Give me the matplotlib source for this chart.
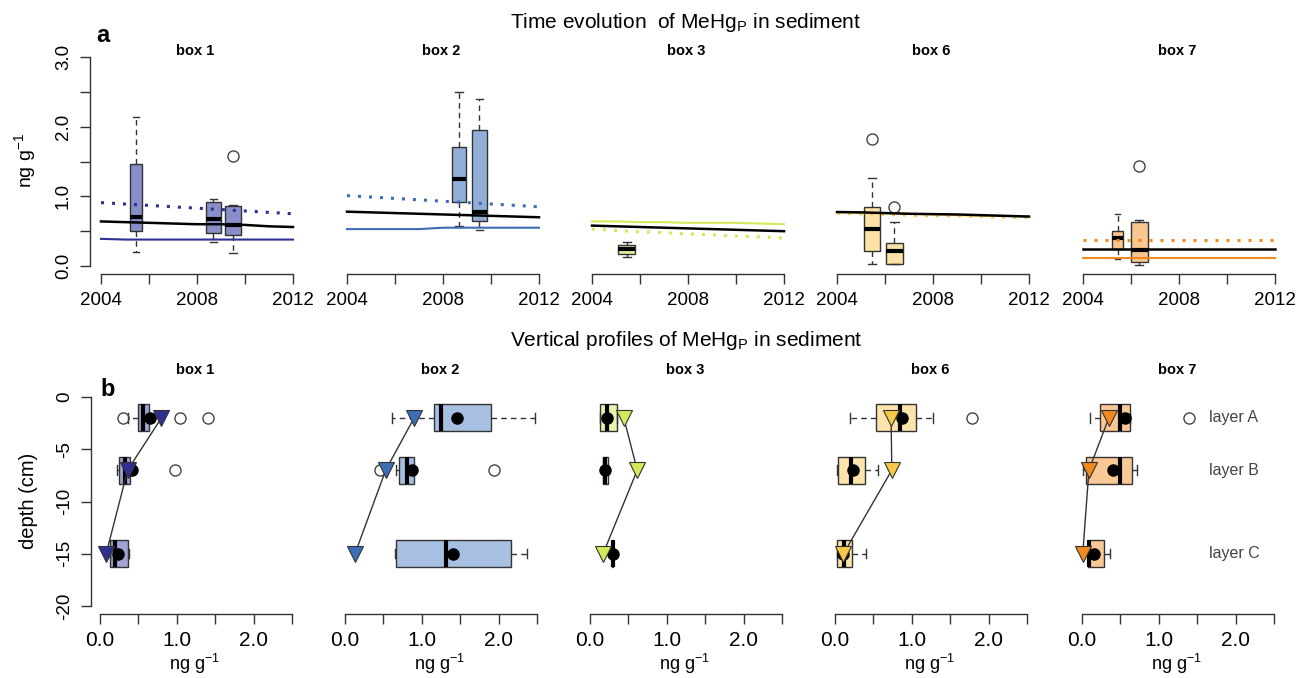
import matplotlib.pyplot as plt

plt.rcParams['font.family'] = ['Liberation Sans', 'DejaVu Sans']
plt.rcParams['mathtext.fontset'] = 'custom'
plt.rcParams['mathtext.rm'] = 'Liberation Sans'
plt.rcParams['mathtext.it'] = 'Liberation Sans:italic'
plt.rcParams['mathtext.bf'] = 'Liberation Sans:bold'

# ---------------- data ----------------
boxes = ['box 1', 'box 2', 'box 3', 'box 6', 'box 7']

# (a) time evolution: sampling campaigns (decimal year) and box stats
time_pos = [[2005.45, 2008.68, 2009.51], [2008.66, 2009.52], [2005.45],
            [2005.46, 2006.39], [2005.44, 2006.34]]
time_whislo = [[0.20, 0.35, 0.19], [0.57, 0.51], [0.13], [0.03, 0.03], [0.10, 0.02]]
time_q1 = [[0.50, 0.47, 0.44], [0.92, 0.65], [0.17], [0.22, 0.03], [0.24, 0.06]]
time_med = [[0.70, 0.68, 0.59], [1.25, 0.77], [0.24], [0.53, 0.21], [0.40, 0.23]]
time_q3 = [[1.46, 0.92, 0.86], [1.71, 1.95], [0.30], [0.84, 0.33], [0.50, 0.63]]
time_whishi = [[2.14, 0.96, 0.87], [2.50, 2.40], [0.35], [1.26, 0.63], [0.74, 0.66]]
time_fliers = [[[], [], [1.58]], [[], []], [[]], [[1.82], [0.84]], [[], [1.43]]]

# model runs, yearly values 2004-2012
model_years = [2004, 2005, 2006, 2007, 2008, 2009, 2010, 2011, 2012]
model_black = [[0.64, 0.63, 0.62, 0.61, 0.60, 0.60, 0.59, 0.57, 0.56],
               [0.78, 0.77, 0.76, 0.75, 0.74, 0.73, 0.72, 0.71, 0.70],
               [0.58, 0.57, 0.56, 0.55, 0.54, 0.53, 0.52, 0.51, 0.50],
               [0.775, 0.77, 0.76, 0.75, 0.745, 0.74, 0.73, 0.72, 0.71],
               [0.24, 0.24, 0.24, 0.24, 0.24, 0.24, 0.24, 0.24, 0.24]]
model_solid = [[0.39, 0.38, 0.38, 0.38, 0.38, 0.38, 0.38, 0.38, 0.38],
               [0.53, 0.53, 0.53, 0.53, 0.55, 0.55, 0.55, 0.55, 0.55],
               [0.64, 0.64, 0.63, 0.63, 0.62, 0.62, 0.62, 0.61, 0.60],
               [0.77, 0.76, 0.76, 0.75, 0.74, 0.73, 0.72, 0.72, 0.71],
               [0.12, 0.12, 0.12, 0.12, 0.12, 0.12, 0.12, 0.12, 0.12]]
model_dotted = [[0.91, 0.89, 0.87, 0.85, 0.83, 0.81, 0.79, 0.77, 0.75],
                [1.01, 0.99, 0.97, 0.95, 0.93, 0.91, 0.89, 0.87, 0.85],
                [0.53, 0.51, 0.49, 0.48, 0.46, 0.45, 0.43, 0.42, 0.40],
                [0.76, 0.75, 0.74, 0.73, 0.72, 0.72, 0.71, 0.70, 0.70],
                [0.37, 0.37, 0.37, 0.37, 0.37, 0.37, 0.37, 0.37, 0.37]]

# (b) vertical profiles: layers A, B, C
layers = ['layer A', 'layer B', 'layer C']
depths = [-2, -7, -15]
prof_whislo = [[0.36, 0.22, 0.13], [0.61, 0.67, 0.65], [0.13, 0.165, 0.28],
               [0.19, 0.02, 0.02], [0.10, 0.01, 0.08]]
prof_q1 = [[0.49, 0.25, 0.13], [1.16, 0.70, 0.67], [0.13, 0.165, 0.28],
           [0.54, 0.04, 0.02], [0.23, 0.05, 0.08]]
prof_med = [[0.56, 0.32, 0.20], [1.25, 0.81, 1.32], [0.225, 0.195, 0.295],
            [0.84, 0.21, 0.12], [0.49, 0.50, 0.09]]
prof_q3 = [[0.64, 0.39, 0.37], [1.90, 0.90, 2.16], [0.35, 0.24, 0.30],
           [1.06, 0.39, 0.22], [0.62, 0.65, 0.29]]
prof_whishi = [[0.64, 0.39, 0.38], [2.48, 0.90, 2.37], [0.35, 0.24, 0.30],
               [1.27, 0.56, 0.41], [0.62, 0.72, 0.36]]
prof_fliers = [[[0.30, 1.04, 1.41], [0.98], []], [[], [0.45, 1.94], []],
               [[], [], []], [[1.78], [], []], [[1.39], [], []]]
prof_mean = [[0.65, 0.42, 0.23], [1.46, 0.875, 1.41], [0.225, 0.195, 0.30],
             [0.875, 0.23, 0.11], [0.56, 0.40, 0.15]]
prof_model = [[0.80, 0.36, 0.08], [0.90, 0.53, 0.13], [0.44, 0.615, 0.17],
              [0.73, 0.74, 0.11], [0.35, 0.09, 0.01]]

# ---------------- style ----------------
fill_top = ['#8A8EC8', '#92AFD8', '#E6EFA0', '#FCE2A6', '#F9C690']
fill_bot = ['#A0A5D6', '#A7BFE0', '#EAF2AE', '#FCE4AC', '#F9C896']
line_col = ['#2E3192', '#3D6DB5', '#D6E85A', '#F7C94A', '#F28B1F']
top_w = [[0.52, 0.62, 0.67], [0.61, 0.62], [0.70], [0.70, 0.70], [0.46, 0.70]]
edge = '#333333'

W, H = 1297, 678
fig = plt.figure(figsize=(W / 100, H / 100), dpi=100)


def add_px(left, top, right, bottom):
    return fig.add_axes([left / W, 1 - bottom / H, (right - left) / W, (bottom - top) / H])


def stats_list(lo, q1, med, q3, hi, fl):
    return [dict(whislo=a, q1=b, med=c, q3=d, whishi=e, fliers=f)
            for a, b, c, d, e, f in zip(lo, q1, med, q3, hi, fl)]


def style_axes(ax, first):
    for s in ['top', 'right']:
        ax.spines[s].set_visible(False)
    for s in ['left', 'bottom']:
        ax.spines[s].set_color(edge)
        ax.spines[s].set_linewidth(1)
    ax.tick_params(direction='out', length=7, width=1, color=edge)
    if not first:
        ax.spines['left'].set_visible(False)
        ax.tick_params(axis='y', left=False, labelleft=False)


bxp_kw = dict(patch_artist=True, manage_ticks=False,
              medianprops=dict(color='black', lw=3, solid_capstyle='butt'),
              whiskerprops=dict(color=edge, lw=1, ls=(0, (4, 3))),
              capprops=dict(color=edge, lw=1),
              flierprops=dict(marker='o', mfc='none', mec='#444444', ms=8, mew=1))

# ---------------- (a) time evolution ----------------
top_x0 = [101, 347, 592, 837, 1083]
for i, o in enumerate(top_x0):
    ax = add_px(o - 0.46 * 24, 48.6, o + 8.32 * 24, 274.4)
    ax.set_xlim(2003.54, 2012.32)
    ax.set_ylim(-0.12, 3.12)
    style_axes(ax, i == 0)
    ax.spines['bottom'].set_bounds(2004, 2012)
    ax.spines['left'].set_bounds(0, 3)
    ax.set_xticks([2004, 2006, 2008, 2010, 2012])
    ax.set_xticklabels(['2004', '', '2008', '', '2012'], fontsize=13.5)
    ax.tick_params(axis='x', pad=6)
    if i == 0:
        ax.set_yticks([0, 0.5, 1, 1.5, 2, 2.5, 3])
        ax.set_yticklabels(['0.0', '', '1.0', '', '2.0', '', '3.0'],
                           fontsize=13.5, rotation=90, va='center')
        ax.tick_params(axis='y', pad=6)

    st = stats_list(time_whislo[i], time_q1[i], time_med[i], time_q3[i],
                    time_whishi[i], time_fliers[i])
    ax.bxp(st, positions=time_pos[i], widths=top_w[i],
           capwidths=[w * 0.5 for w in top_w[i]],
           boxprops=dict(facecolor=fill_top[i], edgecolor=edge, lw=1), **bxp_kw)

    ax.plot(model_years, model_solid[i], color=line_col[i], lw=1.5, zorder=4)
    ax.plot(model_years, model_dotted[i], color=line_col[i], lw=2.2,
            ls=(0, (1, 2.6)), zorder=4)
    ax.plot(model_years, model_black[i], color='black', lw=1.8, zorder=5)

    fig.text((o + 94) / W, 1 - 51 / H, boxes[i], fontsize=10.5, weight='bold',
             ha='center', va='center')

# ---------------- (b) vertical profiles ----------------
bot_x0 = [100, 345, 590, 835, 1082]
for i, o in enumerate(bot_x0):
    ax = add_px(o - 0.115 * 76.8, 388.6, o + 2.6 * 76.8, 614.4)
    ax.set_xlim(-0.115, 2.6)
    ax.set_ylim(-20.8, 0.8)
    style_axes(ax, i == 0)
    ax.spines['bottom'].set_bounds(0, 2.5)
    ax.spines['left'].set_bounds(-20, 0)
    ax.set_xticks([0, 0.5, 1, 1.5, 2, 2.5])
    ax.set_xticklabels(['0.0', '', '1.0', '', '2.0', ''], fontsize=15)
    ax.tick_params(axis='x', pad=5)
    if i == 0:
        ax.set_yticks([0, -5, -10, -15, -20])
        ax.set_yticklabels(['0', '-5', '-10', '-15', '-20'],
                           fontsize=13.5, rotation=90, va='center')
        ax.tick_params(axis='y', pad=6)

    st = stats_list(prof_whislo[i], prof_q1[i], prof_med[i], prof_q3[i],
                    prof_whishi[i], prof_fliers[i])
    ax.bxp(st, positions=depths, widths=2.6, capwidths=0.9,
           orientation='horizontal',
           boxprops=dict(facecolor=fill_bot[i], edgecolor=edge, lw=1), **bxp_kw)

    ax.plot(prof_model[i], depths, '-', color='#333333', lw=1, zorder=4)
    ax.plot(prof_mean[i], depths, 'o', color='black', ms=8, zorder=5)
    ax.plot(prof_model[i], depths, 'v', mfc=line_col[i], mec='#333333', mew=0.8,
            ms=11, ls='none', zorder=6)

    fig.text((o + 95) / W, 1 - 370 / H, boxes[i], fontsize=10.5, weight='bold',
             ha='center', va='center')
    fig.text((o + 94) / W, 1 - 664 / H, 'ng g$^{-1}$', fontsize=13,
             ha='center', va='center')

    if i == len(bot_x0) - 1:
        for lab, d in zip(layers, depths):
            ax.text(1.65, d, lab, fontsize=11.5, color='#444444', va='center',
                    ha='left', clip_on=False)

# ---------------- titles and labels ----------------
fig.text(686 / W, 1 - 22 / H, 'Time evolution  of MeHg$_\\mathrm{P}$ in sediment',
         fontsize=15, ha='center', va='center')
fig.text(686 / W, 1 - 341 / H, 'Vertical profiles of MeHg$_\\mathrm{P}$ in sediment',
         fontsize=15, ha='center', va='center')
fig.text(96 / W, 1 - 36 / H, 'a', fontsize=17, weight='bold', ha='left', va='center')
fig.text(100 / W, 1 - 390 / H, 'b', fontsize=17, weight='bold', ha='left', va='center')
fig.text(25 / W, 1 - 161 / H, 'ng g$^{-1}$', fontsize=14, rotation=90,
         ha='center', va='center')
fig.text(28 / W, 1 - 501 / H, 'depth (cm)', fontsize=14.5, rotation=90,
         ha='center', va='center')

fig.savefig('out.png', dpi=100)
